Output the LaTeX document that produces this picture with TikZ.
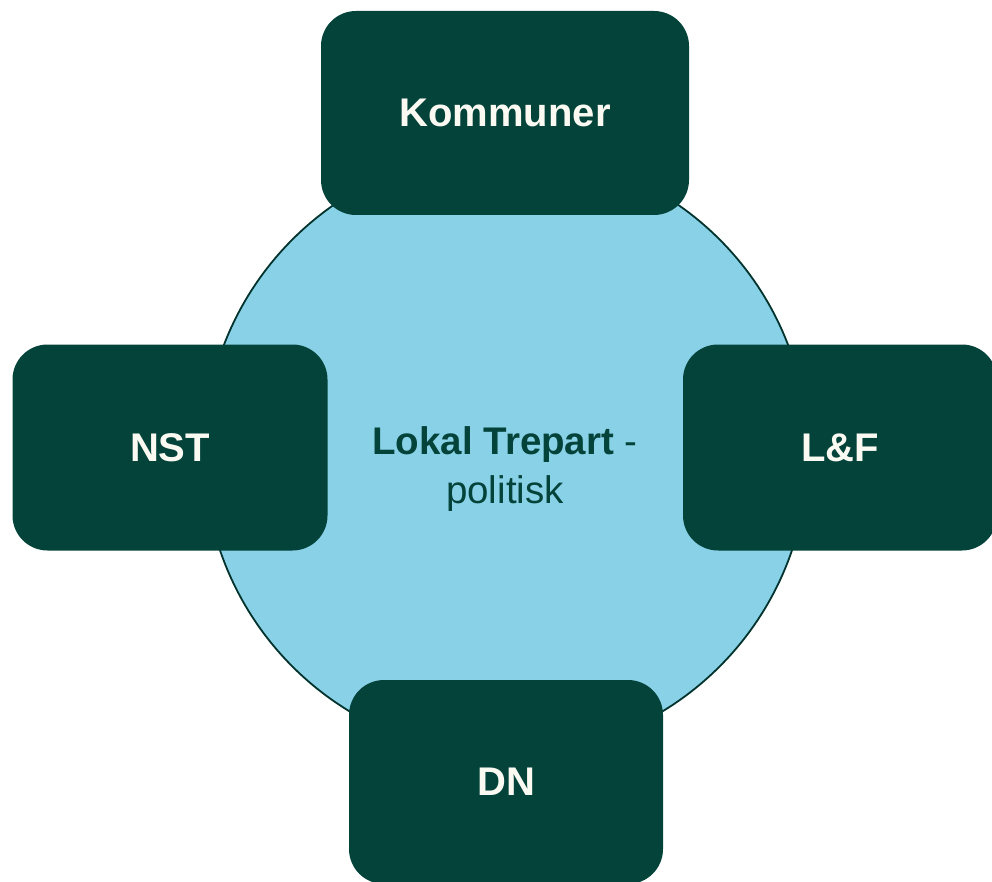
\documentclass[tikz,border=0pt]{standalone}
\usepackage{fontspec}
\setmainfont{Liberation Sans}
\definecolor{boxgreen}{HTML}{03433A}
\definecolor{edgegreen}{HTML}{03332D}
\definecolor{circblue}{HTML}{89D1E7}
\definecolor{boxtext}{HTML}{FBFAF2}
\begin{document}
\begin{tikzpicture}[x=1pt,y=-1pt,
  orgbox/.style={rectangle, rounded corners=35pt, fill=boxgreen, inner sep=0pt, outer sep=0pt,
    text=boxtext, font=\fontsize{40}{48}\selectfont\bfseries},
  hub/.style={circle, fill=circblue, draw=edgegreen, line width=1.8pt, inner sep=0pt, minimum size=604pt}]
\useasboundingbox (0,0) rectangle (992,882);
\node[hub] (c) at (506,453) {};
\node[align=center, text=boxgreen, font=\fontsize{38.5}{49}\selectfont] (lbl) at (505,469)
  {{\bfseries Lokal Trepart} -\\politisk};
\node[orgbox, minimum width=368pt, minimum height=204pt] (kom) at (505,113) {Kommuner};
\node[orgbox, minimum width=315pt, minimum height=206pt] (nst) at (170,447.5) {NST};
\node[orgbox, minimum width=314pt, minimum height=206pt] (lf) at (840,447.5) {L\&F};
\node[orgbox, minimum width=314pt, minimum height=204pt] (dn) at (506,782) {DN};
\end{tikzpicture}
\end{document}
